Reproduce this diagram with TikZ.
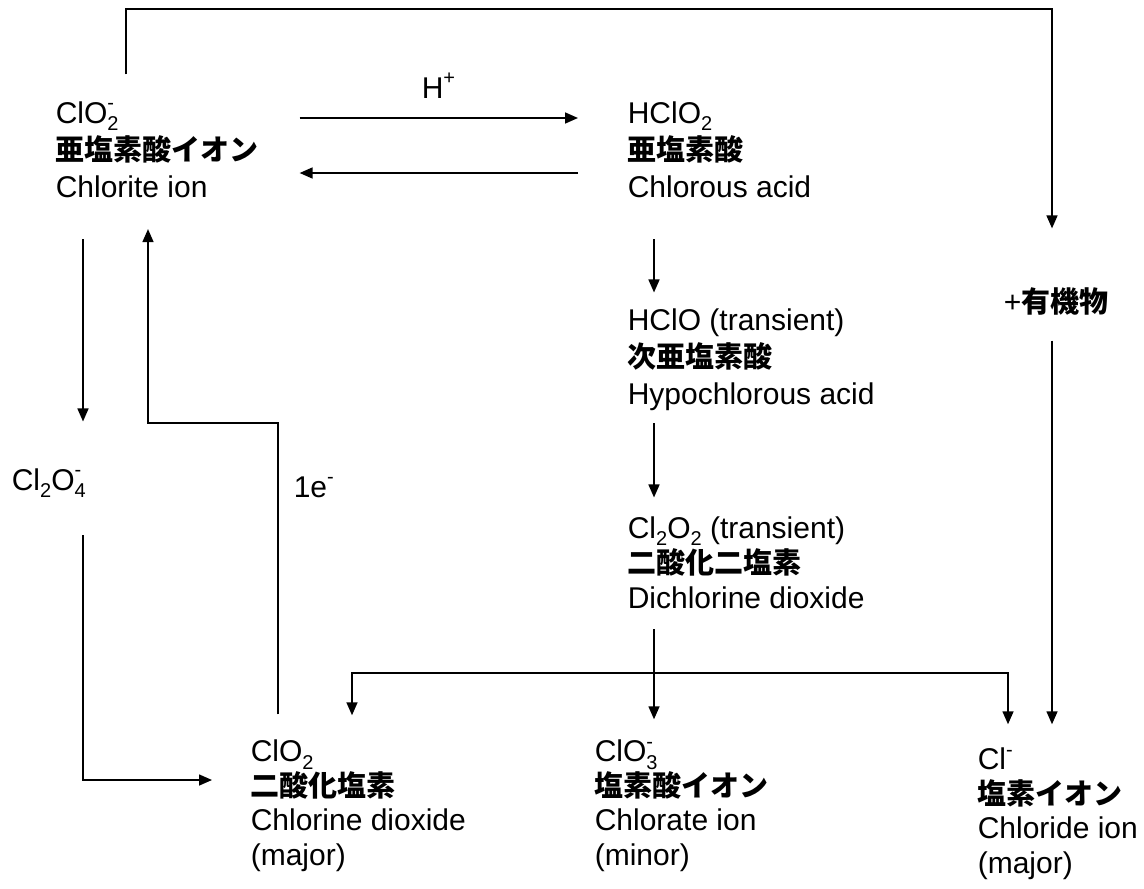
\documentclass[tikz,border=0pt]{standalone}
\usepackage{fontspec}
\setmainfont{Liberation Sans}
\newfontfamily\jpfont{Noto Sans CJK JP}
\usetikzlibrary{arrows.meta}
\newcommand\jp[1]{{\jpfont\bfseries\fontsize{14.5pt}{18pt}\selectfont #1}}
\newcommand\lo[1]{\raisebox{-0.25em}{\fontsize{10pt}{10pt}\selectfont #1}}
\newcommand\hi[1]{\raisebox{0.45em}{\fontsize{10pt}{10pt}\selectfont #1}}
\newcommand\chg[2]{\rlap{\hi{#2}}\lo{#1}}

\begin{document}
\begin{tikzpicture}[x=0.5pt, y=-0.5pt, line width=0.8pt,
  species/.style={anchor=base west, align=left, inner sep=0pt, font=\fontsize{15pt}{18.5pt}\selectfont},
  bottomrow/.style={font=\fontsize{15pt}{17.2pt}\selectfont},
  arr/.style={-{Triangle[length=6.5pt,width=5.5pt]}}]
\useasboundingbox (0,0) rectangle (1144,888);
% species (anchored at the baseline of the last line)
\node[species] (hplus) at (421,98) {H\hi{+}};
\node[species] (chlorite) at (55,197) {ClO\chg{2}{-}\\\jp{亜塩素酸イオン}\\Chlorite ion};
\node[species] (chlorous) at (627,197) {HClO\lo{2}\\\jp{亜塩素酸}\\Chlorous acid};
\node[species] (hypo) at (627,404) {HClO (transient)\\\jp{次亜塩素酸}\\Hypochlorous acid};
\node[species, font=\fontsize{15pt}{17.5pt}\selectfont] (dichl) at (627,608) {Cl\lo{2}O\lo{2} (transient)\\\jp{二酸化二塩素}\\Dichlorine dioxide};
\node[species] (cl2o4) at (11,490) {Cl\lo{2}O\chg{4}{-}};
\node[species] (elec) at (293,497) {1e\hi{-}};
\node[species] (organic) at (1003,312) {+\jp{有機物}};
\node[species, bottomrow] (dioxide) at (250,865) {ClO\lo{2}\\\jp{二酸化塩素}\\Chlorine dioxide\\(major)};
\node[species, bottomrow] (chlorate) at (594,865) {ClO\chg{3}{-}\\\jp{塩素酸イオン}\\Chlorate ion\\(minor)};
\node[species, bottomrow] (chloride) at (977,873) {Cl\hi{-}\\\jp{塩素イオン}\\Chloride ion\\(major)};
% rails and bends
\coordinate (loopl) at (126,9);
\coordinate (loopr) at (1052,9);
\coordinate (leftrail) at (83,0);
\coordinate (backrail) at (148,0);
\coordinate (elecrail) at (278,423);
\coordinate (acidrail) at (654,0);
\coordinate (split) at (654,673);
\coordinate (dioxrail) at (352,0);
\coordinate (chlorail) at (1008,0);
\coordinate (fwd) at (0,118);
\coordinate (back) at (0,173);
% acid-base equilibrium
\draw[arr, shorten <=20pt, shorten >=24.5pt] (chlorite.east |- fwd) -- (chlorous.west |- fwd);
\draw[arr, shorten <=24.5pt, shorten >=20pt] (chlorous.west |- back) -- (chlorite.east |- back);
% decomposition chain
\draw[arr, shorten <=20.5pt, shorten >=7.5pt] (chlorous.south -| acidrail) -- (hypo.north -| acidrail);
\draw[arr, shorten <=6pt, shorten >=9pt] (hypo.south -| acidrail) -- (dichl.north -| acidrail);
\draw[arr, shorten <=10pt, shorten >=10pt] (dichl.south -| acidrail) -- (chlorate.north -| acidrail);
\draw[arr, shorten >=12pt] (split) -| (dioxide.north -| dioxrail);
\draw[arr, shorten >=11.5pt] (split) -| (chloride.north -| chlorail);
% organic matter
\draw[arr, shorten <=13pt, shorten >=29pt] (chlorite.north -| loopl) -- (loopl) -- (loopr) -- (organic.north -| loopr);
\draw[arr, shorten <=12.5pt, shorten >=11.5pt] (organic.south -| loopr) -- (chloride.north -| loopr);
% side paths
\draw[arr, shorten <=20.5pt, shorten >=23pt] (chlorite.south -| leftrail) -- (cl2o4.north -| leftrail);
\draw[arr, shorten <=18.5pt, shorten >=19pt] (cl2o4.south -| leftrail) |- (dioxide.west |- 0,780);
\draw[arr, shorten <=12.5pt, shorten >=15.5pt] (dioxide.north -| elecrail) -- (elecrail) -| (chlorite.south -| backrail);
\end{tikzpicture}
\end{document}
